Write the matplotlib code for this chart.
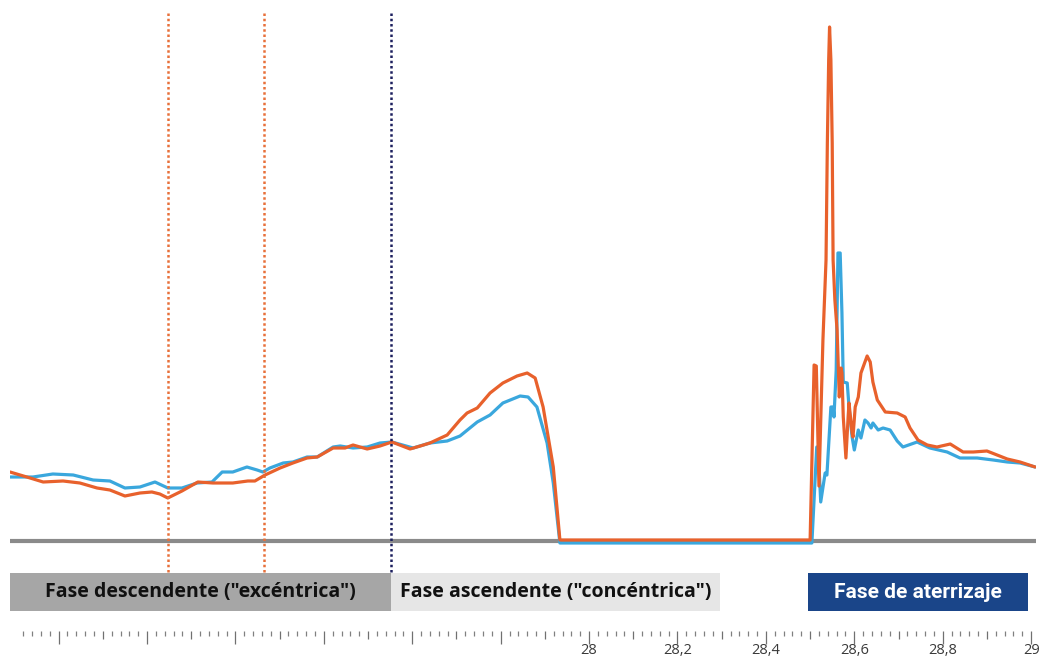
import numpy as np
import matplotlib
matplotlib.use("Agg")
import matplotlib.pyplot as plt
from matplotlib.patches import Rectangle

# tiempo (s) y fuerza relativa de cada pierna
t_azul = [26.690, 26.742, 26.787, 26.833, 26.878, 26.916, 26.950, 26.984, 27.018, 27.047,
          27.079, 27.113, 27.147, 27.170, 27.194, 27.226, 27.249, 27.262, 27.278, 27.308,
          27.330, 27.362, 27.385, 27.421, 27.437, 27.466, 27.498, 27.527, 27.554, 27.602,
          27.640, 27.679, 27.708, 27.747, 27.776, 27.805, 27.844, 27.862, 27.882, 27.905,
          27.919, 27.934, 28.500, 28.504, 28.515, 28.518, 28.524, 28.534, 28.538, 28.547,
          28.552, 28.554, 28.559, 28.563, 28.568, 28.572, 28.575, 28.584, 28.588, 28.595,
          28.600, 28.609, 28.615, 28.624, 28.631, 28.638, 28.642, 28.654, 28.665, 28.681,
          28.697, 28.710, 28.742, 28.771, 28.810, 28.839, 28.878, 28.914, 28.946, 28.975,
          29.009]
f_azul = [0.64, 0.64, 0.67, 0.66, 0.61, 0.60, 0.53, 0.54, 0.59, 0.53,
          0.53, 0.58, 0.59, 0.69, 0.69, 0.74, 0.71, 0.69, 0.73, 0.78,
          0.79, 0.84, 0.84, 0.94, 0.95, 0.93, 0.94, 0.98, 0.99, 0.93,
          0.98, 1.00, 1.05, 1.19, 1.26, 1.38, 1.45, 1.44, 1.34, 0.98,
          0.58, -0.02, -0.02, -0.02, 0.94, 0.94, 0.39, 0.68, 0.66, 1.34,
          1.34, 1.24, 1.71, 2.88, 2.88, 2.28, 1.59, 1.58, 1.34, 1.04,
          0.91, 1.11, 1.03, 1.21, 1.18, 1.13, 1.18, 1.11, 1.13, 1.11,
          1.00, 0.94, 0.99, 0.93, 0.89, 0.83, 0.83, 0.81, 0.79, 0.78,
          0.74]

t_naranja = [26.690, 26.728, 26.765, 26.810, 26.848, 26.887, 26.916, 26.950, 26.984, 27.011,
             27.029, 27.047, 27.079, 27.115, 27.149, 27.194, 27.228, 27.244, 27.267, 27.301,
             27.330, 27.362, 27.385, 27.421, 27.448, 27.466, 27.498, 27.527, 27.554, 27.595,
             27.618, 27.640, 27.679, 27.708, 27.724, 27.747, 27.776, 27.805, 27.837, 27.860,
             27.878, 27.896, 27.919, 27.934, 28.500, 28.509, 28.514, 28.520, 28.529, 28.536,
             28.539, 28.542, 28.544, 28.547, 28.550, 28.552, 28.556, 28.561, 28.566, 28.570,
             28.572, 28.575, 28.581, 28.586, 28.588, 28.595, 28.597, 28.602, 28.609, 28.615,
             28.629, 28.636, 28.642, 28.652, 28.670, 28.697, 28.715, 28.726, 28.744, 28.765,
             28.787, 28.817, 28.846, 28.869, 28.900, 28.923, 28.946, 28.975, 29.009]
f_naranja = [0.69, 0.64, 0.59, 0.60, 0.58, 0.53, 0.51, 0.45, 0.48, 0.49,
             0.47, 0.43, 0.50, 0.59, 0.58, 0.58, 0.60, 0.60, 0.66, 0.73,
             0.78, 0.83, 0.84, 0.93, 0.93, 0.96, 0.92, 0.95, 0.99, 0.92,
             0.95, 0.98, 1.06, 1.21, 1.28, 1.33, 1.48, 1.58, 1.65, 1.68,
             1.63, 1.34, 0.74, 0.01, 0.01, 1.76, 1.75, 0.55, 2.01, 2.81,
             3.98, 4.81, 5.14, 4.81, 3.98, 2.81, 2.41, 2.11, 1.44, 1.73,
             1.68, 1.24, 0.83, 1.24, 1.38, 1.08, 1.04, 1.34, 1.44, 1.68,
             1.85, 1.79, 1.59, 1.41, 1.29, 1.28, 1.24, 1.13, 1.01, 0.96,
             0.94, 0.97, 0.89, 0.89, 0.90, 0.86, 0.82, 0.79, 0.74]

# instantes marcados con líneas punteadas
marcas_t = [27.047, 27.265, 27.552]
marcas_color = ["#e8703a", "#e8703a", "#1c1f5e"]

# fases del salto: inicio, fin, texto
fases_inicio = [26.690, 27.552, 28.495]
fases_fin = [27.552, 28.296, 28.993]
fases_texto = ['Fase descendente ("excéntrica")',
               'Fase ascendente ("concéntrica")',
               'Fase de aterrizaje']
fases_fondo = ["#a6a6a6", "#e6e6e6", "#1a4589"]
fases_letra = ["#111111", "#111111", "white"]
fases_fuente = ["Open Sans", "Open Sans", "Roboto"]
fases_tam = [14, 14, 15]

W, H = 1044, 659
fig = plt.figure(figsize=(W / 100, H / 100), dpi=100)
ax = fig.add_axes([10 / W, 28 / H, 1026 / W, 631 / H])
ax.set_xlim(26.69, 29.011)
ax.set_ylim(-0.90, 5.41)

ax.axhline(0, color="#8a8a8a", lw=3, zorder=1)
ax.plot(t_azul, f_azul, color="#3aa7dd", lw=2.3, zorder=3,
        solid_joinstyle="round", solid_capstyle="round")
ax.plot(t_naranja, f_naranja, color="#e8612c", lw=2.3, zorder=4,
        solid_joinstyle="round", solid_capstyle="round")

for x, c in zip(marcas_t, marcas_color):
    ax.axvline(x, ymin=0.0935, ymax=0.981, color=c, lw=1.8,
               linestyle=(0, (1, 1.1)), zorder=6)

for x0, x1, fc, tc, txt, fam, tam in zip(fases_inicio, fases_fin, fases_fondo,
                                         fases_letra, fases_texto, fases_fuente, fases_tam):
    ax.add_patch(Rectangle((x0, -0.70), x1 - x0, 0.38, fc=fc, ec="none", zorder=2))
    ax.text((x0 + x1) / 2, -0.515, txt, ha="center", va="center", color=tc,
            fontsize=tam, fontweight="bold", family=fam, zorder=7)

# eje de tiempo: marcas cada 0,02 s, medianas cada 0,1 s, largas cada 0,2 s
mayores = np.round(np.arange(26.8, 29.0001, 0.1), 1)
menores = np.round(np.arange(26.72, 29.0001, 0.02), 2)
ax.set_xticks(mayores)
ax.set_xticks(menores, minor=True)
etiquetas = []
for v in mayores:
    if v >= 28 and round(v * 10) % 2 == 0:
        etiquetas.append(f"{v:g}".replace(".", ","))
    else:
        etiquetas.append("")
ax.set_xticklabels(etiquetas, family="Open Sans", fontsize=10.5, color="#3a3a3a")
ax.tick_params(axis="x", which="major", length=5.8, width=0.9, color="#707070", pad=3)
ax.tick_params(axis="x", which="minor", length=3.6, width=0.9, color="#808080")
for tick, v in zip(ax.xaxis.get_major_ticks(), mayores):
    if round(v * 10) % 2 == 0:
        tick.tick1line.set_markersize(9.4)

ax.set_yticks([])
for s in ax.spines.values():
    s.set_visible(False)

fig.savefig("out.png", dpi=100)
